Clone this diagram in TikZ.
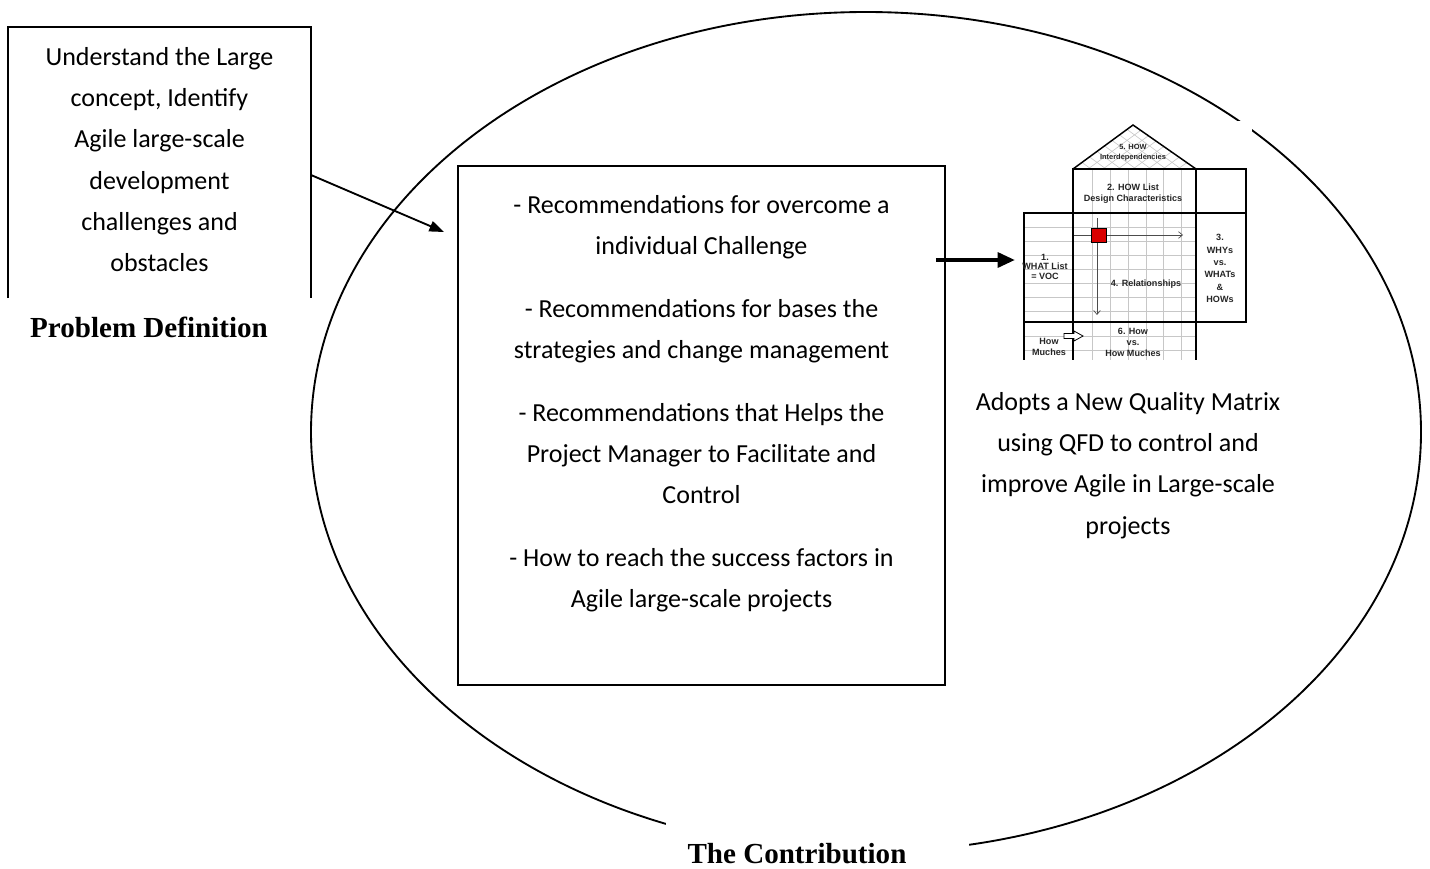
\documentclass[tikz,border=0pt]{standalone}
\usepackage{fontspec}
\setmainfont{Carlito}
\newfontfamily\labelfont{Liberation Serif}
\newfontfamily\qfdfont{Liberation Sans}
\usetikzlibrary{arrows.meta,shapes.geometric,calc}

\begin{document}
\begin{tikzpicture}[x=0.75pt,y=-0.75pt,
  body/.style={font=\fontsize{19.5}{31}\selectfont, align=center, inner sep=0pt},
  caption/.style={font=\labelfont\bfseries\fontsize{21.8}{26}\selectfont, inner sep=0pt},
  frame/.style={line width=1.4pt},
  qfdline/.style={line width=1.1pt},
  qfdgrid/.style={draw=black!22, line width=0.45pt},
  qfdtext/.style={font=\qfdfont\bfseries\fontsize{6.8}{8.3}\selectfont, align=center, inner sep=0pt, text=black!85},
  thinarrow/.style={draw=black!70, line width=0.5pt, -{Straight Barb[length=3pt,width=5pt]}},
  ]
\useasboundingbox (0,0) rectangle (1430,868);

% the contribution ellipse
\node[ellipse, draw, frame, minimum width=832.5pt, minimum height=630pt, inner sep=0pt] (contrib) at (866,432) {};

% white patch that interrupts the ellipse under its caption
\fill[white] (666,819) rectangle (969,868);
\node[caption, anchor=base] (contribution) at (797,863) {The Contribution};

% problem definition: box open at the bottom
% (base anchor of a multi-line node = baseline of its last line)
\node[minimum width=227.25pt, minimum height=203.25pt, inner sep=0pt, outer sep=0pt] (pbox) at (159.5,162.5) {};
\draw[frame] (pbox.south west) -- (pbox.north west) -- (pbox.north east) -- (pbox.south east);
\node[body, anchor=base] (ptext) at (159.5,271.7) {Understand the Large\\concept, Identify\\Agile large-scale\\development\\challenges and\\obstacles};
\node[caption, anchor=base] (problem) at (149,337) {Problem Definition};

% recommendations box
\node[draw, frame, minimum width=365.25pt, minimum height=389.25pt, inner sep=0pt] (mbox) at (701.5,425.5) {};
\node[body, anchor=base] (mtext) at (701.5,607.7) {- Recommendations for overcome a\\individual Challenge\\[16pt]- Recommendations for bases the\\strategies and change management\\[16pt]- Recommendations that Helps the\\Project Manager to Facilitate and\\Control\\[16pt]- How to reach the success factors in\\Agile large-scale projects};

% house of quality panel (white background)
\node[fill=white, minimum width=180pt, minimum height=179.25pt, inner sep=0pt, outer sep=0pt] (qfd) at (1132,240.5) {};

% connectors
\draw[frame, -{Triangle[length=11pt,width=8pt]}] ($(pbox.north east)+(0,148)$) -- ($(mbox.west)+(-13,-193.5)$);
\draw[line width=3pt, -{Triangle[length=13pt,width=11pt]}] ($(mbox.east)+(-10,-165.5)$) -- ($(qfd.west)+(3,19.5)$);

% QFD grid
\foreach \gx in {1092,1110,1128,1146,1163,1181}
  \draw[qfdgrid] (\gx,169) -- (\gx,360);
\foreach \gy in {227,241,255,269,283,297,311,336,350}
  \draw[qfdgrid] (1024,\gy) -- (1196,\gy);
\begin{scope}
  \clip (1073,169) -- (1133,125) -- (1196,169) -- cycle;
  \foreach \k in {-9,...,9} {
    \draw[qfdgrid] (1073+15*\k,169) -- ++(120,-88);
    \draw[qfdgrid] (1196-15*\k,169) -- ++(-120,-88);
  }
\end{scope}

% QFD arrows and highlighted cell
\draw[thinarrow] (1073,235) -- (1183,235);
\draw[thinarrow] (1097,218) -- (1097,315);
\draw[fill=red!85!black, line width=0.7pt] (1091,228) rectangle (1106,242);

% QFD outlines
\draw[qfdline] (1073,169) -- (1133,125) -- (1196,169);
\draw[qfdline] (1073,169) rectangle (1246,213);
\draw[qfdline] (1196,169) -- (1196,213);
\draw[qfdline] (1024,213) rectangle (1246,322);
\draw[qfdline] (1073,213) -- (1073,360);
\draw[qfdline] (1196,213) -- (1196,360);
\draw[qfdline] (1024,322) -- (1024,360);
\draw[line width=0.6pt, fill=white] (1064,333.5) -- (1074,333.5) -- (1074,331) -- (1083,336) -- (1074,341) -- (1074,338.5) -- (1064,338.5) -- cycle;

% QFD labels
\node[qfdtext, font=\qfdfont\bfseries\fontsize{5.6}{7.4}\selectfont] (q5) at (1133,153) {5. HOW\\Interdependencies};
\node[qfdtext] (q2) at (1133,193.5) {2. HOW List\\Design Characteristics};
\node[qfdtext, font=\qfdfont\bfseries\fontsize{6.8}{7.1}\selectfont] (q1) at (1045,266.5) {1.\\WHAT List\\= VOC};
\node[qfdtext] (q4) at (1146,284) {4. Relationships};
\node[qfdtext, font=\qfdfont\bfseries\fontsize{6.8}{9.2}\selectfont] (q3) at (1220,268.5) {3.\\WHYs\\vs.\\WHATs\\\&\\HOWs};
\node[qfdtext] (q6) at (1133,342) {6. How\\vs.\\How Muches};
\node[qfdtext] (qh) at (1049,346.5) {How\\Muches};

% caption of the matrix
\node[body, anchor=base] (qtext) at (1128,534) {Adopts a New Quality Matrix\\using QFD to control and\\improve Agile in Large-scale\\projects};
\end{tikzpicture}
\end{document}
